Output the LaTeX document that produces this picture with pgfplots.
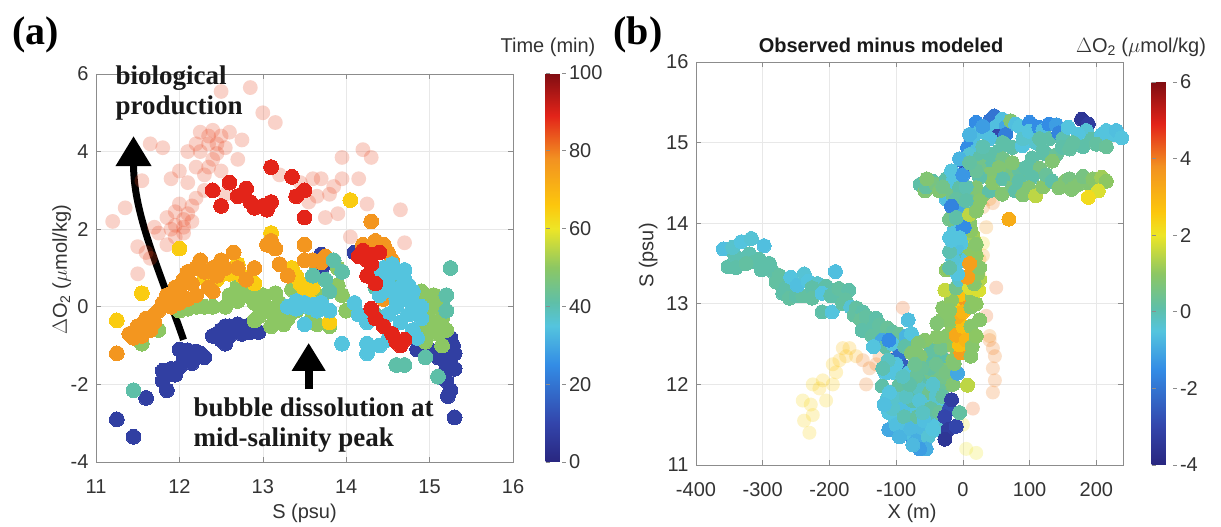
\documentclass[border=0pt]{standalone}
\usepackage{pgfplots}
\pgfplotsset{compat=1.18}
\usepackage{pgfplotstable}
\usepackage{fontspec}
\setmainfont{Liberation Sans}
\newfontfamily\tnr{Liberation Serif}
\usetikzlibrary{arrows.meta}
\definecolor{axgray}{gray}{0.55}
\definecolor{txtgray}{gray}{0.2}
\pgfplotsset{
  colormap={mjet}{rgb(0pt)=(0.16,0.15,0.50); rgb(10pt)=(0.20,0.27,0.67); rgb(25pt)=(0.20,0.55,0.90);
    rgb(35pt)=(0.33,0.77,0.87); rgb(41pt)=(0.37,0.75,0.66); rgb(50pt)=(0.55,0.78,0.39);
    rgb(60pt)=(0.93,0.90,0.15); rgb(66pt)=(0.99,0.78,0.05); rgb(78pt)=(0.95,0.57,0.13);
    rgb(89pt)=(0.89,0.14,0.10); rgb(100pt)=(0.50,0.05,0.07)},
  mstyle/.style={
    scale only axis,
    axis line style={axgray, line width=0.8pt},
    tick style={axgray, line width=0.6pt},
    major tick length=5pt,
    tick align=inside,
    grid=major,
    grid style={gray!18, line width=0.6pt},
    tick label style={font=\fontsize{20}{24}\selectfont, text=txtgray},
    xticklabel style={yshift=-14pt},
    yticklabel style={xshift=-4pt},
    label style={font=\fontsize{20}{24}\selectfont, text=txtgray},
    /pgf/number format/assume math mode=true,
    colormap name=mjet,
  },
  solid/.style={scatter, only marks, mark=*, point meta=explicit,
    scatter/use mapped color={draw=mapped color, fill=mapped color},
    mark options={line width=0pt}},
  faded/.style={scatter, only marks, mark=*, point meta=explicit,
    scatter/use mapped color={draw=mapped color, fill=mapped color},
    mark options={line width=0pt, fill opacity=0.24, draw opacity=0}},
}

% ---------------- panel (a): S, dO2, time ----------------
\pgfplotstableread{
x y c
11.20 2.20 86
11.35 2.55 86
11.50 0.85 86
11.50 1.55 86
11.60 1.40 86
11.55 3.25 86
11.65 4.20 86
11.80 4.10 86
11.75 1.90 86
11.85 2.30 86
11.90 2.00 86
11.95 2.45 86
12.00 2.65 86
12.05 2.25 86
12.00 3.50 86
12.10 3.20 86
12.10 4.00 86
12.20 4.20 86
12.25 4.50 86
12.35 4.40 86
12.40 4.55 86
12.45 4.20 86
12.50 4.40 86
12.60 4.50 86
12.40 3.80 86
12.50 3.50 86
12.30 3.40 86
12.50 5.55 86
12.85 5.65 86
13.00 5.00 86
13.15 4.75 86
12.20 2.80 86
12.30 3.00 86
11.95 1.80 86
11.70 2.05 86
12.15 2.60 86
13.70 3.30 86
13.80 2.90 86
13.90 2.40 86
13.95 3.30 86
13.95 3.85 86
14.20 4.05 86
14.30 3.85 86
14.05 1.80 86
14.25 2.65 86
14.65 2.50 86
14.70 1.65 86
13.65 2.85 86
13.20 3.40 86
12.70 3.80 86
12.55 2.90 86
11.90 3.30 86
12.25 4.00 86
12.75 4.30 86
13.75 2.30 86
12.10 2.40 86
12.05 1.90 86
11.85 1.60 86
11.65 1.25 86
12.35 3.60 86
12.45 3.95 86
13.45 3.20 86
13.55 2.70 86
14.15 3.30 86
13.85 3.10 86
13.60 3.30 86
12.05 2.05 86
12.15 2.20 86
12.20 3.60 86
12.55 4.10 86
12.35 4.20 86
11.95 2.10 86
}\fadeA

\pgfplotstableread{
x y c
11.25 -2.90 8
11.45 -3.35 8
11.60 -2.35 8
11.85 -2.15 8
11.80 -1.90 8
11.90 -1.60 8
11.80 -1.65 8
12.00 -1.55 8
12.05 -1.35 8
12.00 -1.10 8
12.10 -1.12 8
12.15 -1.30 8
12.25 -1.20 8
12.30 -1.30 8
12.15 -1.45 8
11.95 -1.75 8
12.20 -1.15 8
12.45 -0.70 8
12.50 -0.85 8
12.55 -0.95 8
12.60 -0.50 8
12.65 -0.60 8
12.70 -0.45 8
12.80 -0.50 8
12.90 -0.55 8
12.95 -0.65 8
12.85 -0.65 8
12.75 -0.70 8
12.60 -0.75 8
12.50 -0.60 8
12.55 -0.50 8
12.40 -0.75 8
13.70 1.35 8
13.72 1.05 8
14.10 1.40 8
14.85 -1.10 8
15.00 -1.10 8
15.15 -1.20 8
15.20 -1.00 8
15.25 -0.80 8
15.20 -1.50 8
15.25 -1.40 8
15.30 -1.60 8
15.20 -1.90 8
15.25 -2.15 8
15.22 -2.30 8
15.30 -2.85 8
15.30 -1.20 8
15.10 -1.30 8
15.28 -1.00 8
15.18 -1.70 8
11.55 -0.95 50
11.75 -0.60 50
12.00 -0.10 50
12.10 -0.05 50
12.20 0.00 50
12.30 0.00 50
12.40 0.00 50
12.55 0.00 50
12.60 0.30 50
12.70 0.15 50
12.80 0.40 50
12.85 0.25 50
12.70 0.55 50
12.90 0.10 50
12.95 -0.25 50
13.00 0.30 50
13.05 0.00 50
13.10 -0.15 50
13.15 0.35 50
13.20 -0.30 50
13.25 -0.45 50
13.10 -0.50 50
13.30 -0.30 50
13.35 0.45 50
13.45 0.30 50
13.55 0.60 50
13.70 0.25 50
13.80 -0.50 50
13.65 -0.45 50
13.90 0.55 50
13.95 0.30 50
13.90 1.00 50
14.00 -0.10 50
14.90 0.40 50
14.95 0.20 50
15.00 -0.10 50
15.05 -0.40 50
15.10 -0.70 50
15.10 0.00 50
15.05 0.30 50
15.15 -0.30 50
14.95 -0.60 50
15.00 0.00 50
14.85 0.20 50
15.20 -0.60 50
13.00 -0.05 50
13.40 -0.10 50
13.20 0.10 50
12.90 -0.35 50
13.60 -0.20 50
14.95 -0.90 50
15.15 -1.00 50
11.25 -0.35 65
11.55 0.35 65
12.00 1.50 65
12.30 0.75 65
12.60 0.85 65
12.70 1.10 65
12.75 0.80 65
13.10 1.90 65
13.35 1.00 65
13.40 0.80 65
13.45 0.60 65
13.50 0.40 65
13.55 0.20 65
13.80 -0.40 65
14.05 2.75 65
14.30 1.50 65
13.60 0.50 65
12.45 0.70 65
12.90 0.60 65
11.25 -1.20 77
11.40 -0.70 77
11.50 -0.50 77
11.45 -0.80 77
11.60 -0.30 77
11.65 -0.60 77
11.70 -0.20 77
11.75 -0.10 77
11.80 0.10 77
11.85 0.30 77
11.90 0.00 77
11.95 0.50 77
12.00 0.40 77
12.05 0.70 77
12.10 0.90 77
12.15 0.60 77
12.20 1.00 77
12.25 1.20 77
12.30 0.90 77
12.35 0.50 77
12.40 1.00 77
12.45 0.80 77
12.50 1.20 77
12.55 1.00 77
12.65 1.40 77
12.70 1.00 77
12.80 0.70 77
12.90 1.00 77
13.05 1.60 77
13.10 1.70 77
13.15 1.50 77
13.20 1.10 77
13.30 0.80 77
13.50 1.20 77
13.50 1.60 77
13.60 1.20 77
13.70 1.15 77
13.75 1.30 77
14.20 1.60 77
14.30 2.20 77
14.35 1.70 77
14.40 1.50 77
14.45 1.60 77
14.50 1.40 77
14.55 1.20 77
14.45 0.20 77
14.60 0.90 77
12.40 0.40 77
12.20 0.30 77
11.70 -0.40 77
11.55 -0.75 77
12.00 0.10 77
12.10 0.20 77
14.35 -0.20 41
13.85 1.20 41
13.95 0.90 41
13.75 0.70 41
14.35 0.50 41
14.60 -1.50 41
14.70 -1.50 41
14.95 -1.30 41
15.10 -1.80 41
15.25 1.00 41
15.20 0.30 41
15.20 -0.10 41
14.40 -0.30 41
13.60 0.80 41
13.80 0.40 41
14.50 0.55 41
14.55 0.70 41
11.45 -2.15 41
13.30 0.00 35
13.40 -0.05 35
13.50 0.10 35
13.60 0.05 35
13.70 0.10 35
13.40 0.15 35
13.50 -0.45 35
13.80 -0.10 35
13.55 0.00 35
13.65 -0.10 35
13.95 -0.95 35
14.25 -0.95 35
14.25 -1.20 35
14.25 -0.40 35
14.15 -0.20 35
14.10 0.10 35
14.40 0.80 35
14.45 1.00 35
14.50 0.90 35
14.55 1.10 35
14.60 0.90 35
14.50 0.60 35
14.55 0.40 35
14.60 0.20 35
14.65 0.50 35
14.70 0.70 35
14.75 0.55 35
14.80 0.40 35
14.70 0.20 35
14.60 0.00 35
14.50 -0.20 35
14.65 -0.40 35
14.75 -0.20 35
14.80 -0.60 35
14.85 -0.80 35
14.90 -0.30 35
14.40 0.30 35
14.35 0.60 35
14.70 0.95 35
14.80 0.10 35
14.90 0.00 35
14.50 -0.85 35
14.40 -1.00 35
12.40 3.00 89
12.50 2.60 89
12.60 3.20 89
12.70 2.85 89
12.80 3.05 89
12.85 2.70 89
12.90 2.55 89
13.00 2.60 89
13.10 2.70 89
13.05 2.50 89
13.10 3.60 89
13.35 3.35 89
13.40 2.85 89
13.50 3.00 89
13.50 2.30 89
14.15 1.30 89
14.20 1.45 89
14.30 1.10 89
14.25 0.80 89
14.30 1.35 89
14.35 0.60 89
14.30 -0.05 89
14.35 -0.30 89
14.45 -0.50 89
14.55 -0.70 89
14.60 -0.90 89
14.65 -1.00 89
14.70 -0.85 89
14.40 1.40 89
14.25 1.20 89
}\solidA

% ---------------- panel (b): X, S, dO2 ----------------
\pgfplotstableread{
x y c
-230 11.40 2.4
-238 11.55 2.4
-225 11.62 2.4
-240 11.80 2.3
-228 11.75 2.4
-215 11.95 2.5
-205 11.80 2.4
-225 12.00 2.4
-210 12.05 2.5
-195 12.00 2.5
-190 12.15 2.6
-185 12.30 2.7
-175 12.35 2.8
-170 12.45 2.8
-160 12.35 3.0
-180 12.45 2.8
-195 12.25 2.6
-150 12.30 4.0
-140 12.20 4.0
-145 12.00 4.0
-130 12.25 4.0
-125 12.35 4.0
-110 12.40 4.2
-100 12.50 4.2
-95 12.55 4.2
-85 12.55 4.2
-90 12.95 4.2
-60 12.50 4.2
-45 12.45 4.2
-35 12.40 4.0
-25 12.35 4.0
40 12.55 4.0
45 12.45 4.0
48 12.35 4.0
45 12.20 4.0
48 12.05 4.0
45 11.90 4.0
35 12.85 4.2
50 13.20 4.2
15 11.70 4.2
40 12.60 3.8
30 13.60 3.5
25 13.55 3.2
35 13.95 3.6
45 14.25 4.0
40 14.30 3.8
30 14.20 3.8
5 11.20 2.0
20 11.15 2.0
0 11.50 2.0
30 13.75 2.3
25 13.35 2.5
}\fadeB

\pgfplotstableread{
x y c
-359 13.68 -0.6
-352 13.46 0.1
-342 13.60 0.0
-345 13.70 -0.3
-340 13.45 0.1
-332 13.77 -0.5
-317 13.81 -0.4
-320 13.62 0.0
-298 13.72 -0.6
-312 13.52 0.1
-305 13.55 0.1
-325 13.50 0.2
-302 13.42 0.1
-290 13.50 0.1
-285 13.40 0.1
-275 13.35 0.2
-280 13.27 0.2
-270 13.13 0.1
-265 13.20 0.1
-260 13.07 0.2
-250 13.10 0.1
-240 13.10 0.2
-258 13.33 -0.5
-248 13.23 -0.6
-238 13.37 -0.4
-232 13.28 -0.5
-218 13.25 -0.3
-205 13.22 0.1
-226 13.20 0.1
-226 13.07 0.2
-211 12.90 0.1
-196 12.90 -0.5
-211 13.13 -0.5
-191 13.40 -0.6
-198 13.10 0.1
-190 13.10 0.1
-186 13.19 0.2
-180 13.00 0.2
-171 13.17 0.1
-176 13.05 0.2
-168 12.96 -0.4
-160 12.95 0.2
-163 12.86 0.2
-150 12.90 0.1
-153 12.80 0.3
-145 12.84 0.2
-140 12.75 0.2
-135 12.70 0.1
-130 12.82 0.1
-128 12.62 0.2
-125 12.74 0.2
-113 12.70 0.3
-105 12.65 0.2
-95 12.62 0.3
-151 12.67 0.1
-136 12.60 0.2
-121 12.55 -1.0
-116 12.47 0.1
-134 12.47 -0.5
-105 12.50 -0.5
-85 12.60 -0.8
-111 12.55 -1.5
-106 12.30 -2.8
-96 12.35 -2.0
-87 12.22 -2.5
-82 12.80 -0.6
-77 12.63 -0.5
-116 12.14 -0.5
-121 11.98 0.1
-114 11.81 -0.4
-111 11.65 -0.5
-111 11.44 -1.0
-101 11.56 -0.5
-96 11.77 0.1
-91 11.98 -0.4
-82 12.14 -0.5
-77 11.90 0.1
-72 11.69 -0.5
-67 11.48 -0.6
-74 11.32 -1.5
-62 11.25 -0.6
-57 11.40 -0.8
-52 11.60 -0.5
-57 11.81 0.1
-59 12.02 0.1
-54 12.30 0.1
-47 12.14 0.5
-42 11.93 0.1
-37 11.73 -0.5
-32 11.56 0.1
-42 11.44 -0.5
-27 11.98 0.6
-22 12.22 0.8
-32 12.35 0.1
-47 12.43 0.2
-64 12.35 0.8
-87 12.47 0.1
-77 12.39 0.8
-100 11.85 -0.3
-90 11.70 -0.6
-80 11.55 -0.4
-75 11.80 0.1
-65 11.95 -0.2
-55 11.75 -0.5
-45 11.60 0.0
-60 11.45 -0.7
-85 11.40 -0.6
-95 12.00 0.2
-70 12.10 0.3
-50 11.90 0.4
-35 12.00 0.3
-40 11.85 -0.3
-30 12.10 0.5
-105 12.15 -0.5
-50 12.20 0.2
-110 11.90 -0.5
-105 11.70 -0.3
-100 11.50 -0.6
-95 11.35 -0.8
-88 11.60 0.0
-85 11.85 -0.2
-80 12.00 0.1
-78 11.45 -0.7
-70 11.30 -0.9
-68 11.60 0.2
-65 11.80 -0.4
-62 12.20 0.3
-58 11.55 -0.6
-52 11.35 -0.4
-48 11.70 0.2
-45 12.00 -0.3
-40 12.25 0.4
-38 11.50 -0.5
-35 11.65 0.3
-30 11.85 0.2
-28 11.45 -0.3
-25 12.15 0.6
-33 12.45 0.5
-90 12.10 -0.2
-100 12.25 -0.5
-112 12.30 -0.2
-120 12.20 0.0
-118 11.75 -0.6
-72 12.25 0.4
-60 11.65 -0.2
-55 11.20 -0.9
-65 11.20 -1.2
-75 11.25 -0.7
-45 11.45 -0.5
-15 12.00 0.8
-15 12.30 0.9
-20 11.70 -2.8
-17 11.81 -3.2
-27 11.60 -3.0
-22 11.44 -3.3
-10 11.48 -3.0
-27 11.32 -3.5
-5 11.65 0.2
7 11.99 1.5
-8 12.14 -1.0
-13 12.26 0.8
-39 12.59 0.9
-57 12.55 0.9
-67 12.51 0.8
-25 12.60 0.9
-15 12.70 1.0
-30 12.95 0.9
-13 12.47 1.0
-3 12.39 3.5
-5 12.49 2.8
-10 12.61 3.3
0 12.72 2.8
-8 12.84 3.2
-3 12.96 2.5
4 13.05 3.6
-5 13.11 2.7
5 12.55 3.0
0 12.90 3.0
-17 13.05 1.0
-20 12.92 0.9
-22 12.80 0.9
-32 12.80 0.9
-39 12.76 0.8
-27 13.17 1.6
-10 13.20 0.5
-5 13.30 -0.3
12 12.96 0.9
14 13.09 1.0
12 12.72 0.9
14 12.47 0.9
12 12.35 0.9
20 12.60 1.0
25 12.80 0.9
20 13.00 1.0
10 13.20 1.8
24 13.17 1.8
25 13.30 1.4
17 13.25 0.9
22 13.37 1.0
7 13.33 3.5
12 13.54 1.0
20 13.60 1.0
17 13.79 1.5
15 13.85 1.2
7 13.66 1.0
12 13.91 1.0
10 14.00 0.9
-3 13.75 -0.5
-3 13.54 -0.5
-13 13.62 0.1
-15 13.55 -0.4
-10 13.70 -0.6
-20 13.65 0.0
-17 13.79 -0.5
-13 13.91 -0.5
-25 13.42 1.0
-8 13.37 -0.5
-5 14.05 -0.5
0 13.95 -1.5
-20 14.05 0.5
2 14.12 1.0
-8 14.20 -1.0
22 14.24 1.0
-25 14.30 -0.6
-15 14.35 0.5
0 14.35 0.6
15 14.40 0.4
30 14.35 0.8
-10 14.60 -0.8
20 15.25 -1.5
40 15.27 -2.0
47 15.33 -2.0
35 15.15 -0.8
50 15.20 -0.6
59 15.29 -0.6
65 15.20 -1.0
72 15.27 0.8
79 15.23 -0.6
85 15.20 -0.5
100 15.25 -1.5
52 15.08 -3.0
64 15.10 -1.8
25 15.14 -0.6
15 15.04 -0.6
7 14.94 -1.5
20 14.90 -0.6
0 14.77 -2.0
5 14.65 -2.8
10 14.85 -0.4
-5 14.80 -0.8
25 14.81 0.1
30 14.70 0.5
40 14.86 0.1
45 14.75 0.1
54 14.90 0.1
60 14.80 0.5
74 14.94 0.1
70 14.62 0.6
85 14.65 0.2
89 14.96 -0.5
90 15.05 -0.3
99 15.14 -0.5
110 15.00 -0.3
114 15.19 -1.5
120 15.15 -0.6
129 15.23 -1.5
130 15.05 0.1
140 15.22 -1.2
144 15.12 -1.7
150 15.05 0.0
158 15.19 -0.5
178 15.29 -3.5
188 15.23 -3.3
185 15.15 -0.4
173 15.10 -0.5
193 15.04 0.1
208 15.10 -0.5
215 15.15 -0.5
223 15.10 -0.5
230 15.15 -0.6
238 15.06 -0.5
100 14.70 0.5
104 14.81 0.1
115 14.68 0.6
120 14.90 0.1
124 14.86 0.1
140 14.85 0.3
149 14.94 0.1
160 14.92 0.2
180 14.95 0.1
200 14.98 0.2
215 14.95 0.3
134 14.77 0.8
94 14.69 0.1
74 14.75 0.8
54 14.69 0.8
40 14.61 0.8
25 14.57 0.1
20 14.65 0.3
20 14.44 0.8
40 14.40 0.1
45 14.50 0.9
60 14.55 0.1
59 14.36 0.8
75 14.45 0.6
79 14.40 0.1
84 14.52 0.1
90 14.35 0.8
104 14.57 0.1
99 14.44 0.8
109 14.34 1.5
120 14.45 0.9
125 14.60 0.3
134 14.52 0.1
153 14.52 0.8
160 14.55 0.6
173 14.48 0.8
180 14.58 0.6
193 14.44 0.8
195 14.55 0.9
208 14.57 1.2
215 14.52 1.0
203 14.40 1.8
188 14.32 2.2
163 14.42 0.8
144 14.44 0.8
-64 14.48 0.1
-57 14.40 0.8
-55 14.45 0.2
-45 14.52 0.1
-40 14.48 0.6
-35 14.40 0.8
-54 14.55 0.8
-25 14.55 0.1
-17 14.65 -0.5
-15 14.52 -0.5
-5 14.44 0.1
5 14.45 0.0
-10 14.30 0.2
-17 14.21 -1.7
2 13.95 -1.5
-10 14.07 0.1
10 14.11 1.5
20 14.15 0.9
25 14.28 0.9
5 14.28 0.1
69 14.05 3.2
-20 13.82 -0.5
-5 13.82 -0.5
20 13.74 0.9
-20 13.45 0.1
25 13.45 0.9
10 13.50 3.5
30 15.20 -1.2
10 15.10 -0.8
40 15.05 -0.6
30 14.95 0.0
60 15.00 0.1
115 15.05 0.1
165 15.00 0.2
0 14.60 -1.3
-30 14.45 0.5
10 14.75 0.2
}\solidB

\begin{document}
\begin{tikzpicture}
\path[use as bounding box] (0,0) rectangle (1221pt,527pt);

% ================= (a) =================
\begin{axis}[mstyle,
  at={(96pt,65pt)}, anchor=south west,
  width=417pt, height=388pt,
  xmin=11, xmax=16, ymin=-4, ymax=6,
  xtick={11,12,13,14,15,16}, ytick={-4,-2,0,2,4,6},
  point meta min=0, point meta max=100,
  mark size=7.4pt,
  xlabel={S (psu)},
  xlabel style={at={(axis description cs:0.5,-0.132)}, anchor=center},
  ylabel={$\Delta$O\textsubscript{2} ($\mu$mol/kg)},
  ylabel style={at={(axis description cs:-0.082,0.495)}, anchor=center},
  colorbar,
  colorbar style={scale only axis, width=20pt, height=389pt,
    at={(parent axis.north east)}, anchor=north west, xshift=24pt, yshift=1pt,
    ytick={0,20,40,60,80,100},
    axis line style={draw=none},
    tick style={axgray, line width=0.6pt},
    major tick length=4pt,
    yticklabel style={font=\fontsize{20}{24}\selectfont, text=txtgray},
    /pgf/number format/assume math mode=true},
]
\addplot[faded] table[x=x, y=y, meta=c] {\fadeA};
\addplot[solid] table[x=x, y=y, meta=c] {\solidA};
\draw[line width=7pt, -{Triangle[length=30pt, width=34pt]}]
  (axis cs:12.05,-0.85) .. controls (axis cs:11.75,1.0) and (axis cs:11.45,2.4) .. (axis cs:11.45,4.4);
\draw[line width=8pt, -{Triangle[length=28pt, width=32pt]}]
  (axis cs:13.55,-2.13) -- (axis cs:13.55,-0.93);
\end{axis}

% ================= (b) =================
\begin{axis}[mstyle,
  at={(696pt,62pt)}, anchor=south west,
  width=427pt, height=403pt,
  xmin=-400, xmax=240, ymin=11, ymax=16,
  xtick={-400,-300,-200,-100,0,100,200}, ytick={11,12,13,14,15,16},
  point meta min=-4, point meta max=6,
  mark size=7pt,
  xlabel={X (m)},
  xlabel style={at={(axis description cs:0.506,-0.119)}, anchor=center},
  ylabel={S (psu)},
  ylabel style={at={(axis description cs:-0.112,0.52)}, anchor=center},
  colorbar,
  colorbar style={scale only axis, width=25pt, height=383pt,
    at={(parent axis.south east)}, anchor=south west, xshift=20pt,
    ytick={-4,-2,0,2,4,6},
    axis line style={draw=none},
    tick style={axgray, line width=0.6pt},
    major tick length=4pt,
    yticklabel style={font=\fontsize{20}{24}\selectfont, text=txtgray},
    /pgf/number format/assume math mode=true},
]
\addplot[faded] table[x=x, y=y, meta=c] {\fadeB};
\addplot[solid] table[x=x, y=y, meta=c] {\solidB};
\end{axis}

% ---------- labels ----------
\node[font=\tnr\bfseries\fontsize{40}{44}\selectfont] at (36pt,492pt) {(a)};
\node[font=\tnr\bfseries\fontsize{40}{44}\selectfont] at (638pt,492pt) {(b)};
\node[anchor=base west, font=\tnr\bfseries\fontsize{27}{30}\selectfont, text=black!90] at (112pt,442pt) {biological};
\node[anchor=base west, font=\tnr\bfseries\fontsize{27}{30}\selectfont, text=black!90] at (112pt,412pt) {production};
\node[anchor=base west, font=\tnr\bfseries\fontsize{27}{30}\selectfont, text=black!90] at (190pt,110pt) {bubble dissolution at};
\node[anchor=base west, font=\tnr\bfseries\fontsize{27}{30}\selectfont, text=black!90] at (190pt,80pt) {mid-salinity peak};
\node[font=\fontsize{20}{24}\selectfont, text=txtgray] at (548pt,480pt) {Time (min)};
\node[font=\bfseries\fontsize{20}{24}\selectfont, text=black!90] at (881pt,482pt) {Observed minus modeled};
\node[font=\fontsize{20}{24}\selectfont, text=txtgray] at (1141pt,480pt) {$\Delta$O\textsubscript{2} ($\mu$mol/kg)};
\end{tikzpicture}
\end{document}
